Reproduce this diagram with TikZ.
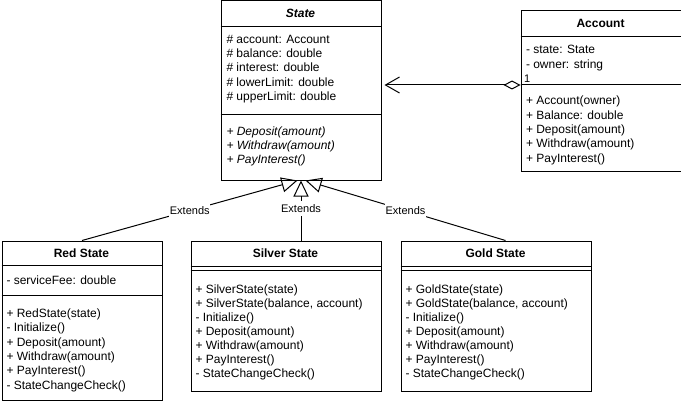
\documentclass[tikz,border=0pt]{standalone}
\usepackage{fontspec}
\setmainfont{Liberation Sans}
\usetikzlibrary{arrows.meta}
\newcommand{\umlrows}[5]{%
  \foreach \txt [count=\i] in {#5} {
    \node[member] (#1-\i) at (#2, {#3+#4*(\i-1)}) {\txt};
  }}
\begin{document}
\begin{tikzpicture}[x=1pt,y=-1pt,line width=1pt,
  umlbox/.style={draw=black, rectangle, inner sep=0pt, anchor=north west},
  member/.style={anchor=base west, inner sep=0pt, font=\fontsize{12}{14}\selectfont},
  title/.style={inner sep=0pt, font=\fontsize{12}{14}\selectfont\bfseries},
  lab/.style={fill=white, inner xsep=0.5pt, inner ysep=3pt, font=\fontsize{11}{13}\selectfont},
  inherit/.style={-{Triangle[open,length=16pt,width=15pt]}},
  aggr/.style={{Diamond[open,length=17pt,width=9pt]}-{Straight Barb[length=14pt,width=16pt]}, shorten >=3pt}]
\fill[white] (0,0) rectangle (681,404);
\useasboundingbox (0,0) rectangle (681,404);

% State
\node[umlbox, minimum width=160pt, minimum height=179pt] (st) at (220.5,0.5) {};
\draw (220.5,26.5) -- (380.5,26.5);
\draw (220.5,114.5) -- (380.5,114.5);
\node[title] (st-t) at (300.5,13.5) {\itshape State};
\umlrows{st-a}{226}{43.8}{14.1}{\# account: Account, \# balance: double, \# interest: double, \# lowerLimit: double, \# upperLimit: double}
\umlrows{st-m}{226}{135.8}{14.1}{{\itshape + Deposit(amount)}, {\itshape + Withdraw(amount)}, {\itshape + PayInterest()}}

% Account
\node[umlbox, minimum width=160pt, minimum height=160pt] (acc) at (520.5,10.5) {};
\draw (520.5,36.5) -- (680.5,36.5);
\draw (520.5,84.5) -- (680.5,84.5);
\node[title] (acc-t) at (600.5,23.5) {Account};
\umlrows{acc-a}{525.5}{54}{14.2}{- state: State, - owner: string}
\umlrows{acc-m}{525.5}{105}{14.3}{+ Account(owner), + Balance: double, + Deposit(amount), + Withdraw(amount), + PayInterest()}

% RedState
\node[umlbox, minimum width=160pt, minimum height=159pt] (red) at (1.5,240.5) {};
\draw (1.5,265.5) -- (161.5,265.5);
\draw (1.5,295.5) -- (161.5,295.5);
\node[title] (red-t) at (81.5,253) {Red State};
\umlrows{red-a}{6}{284.5}{14.2}{- serviceFee: double}
\umlrows{red-m}{6}{317.6}{14.3}{+ RedState(state), - Initialize(), + Deposit(amount), + Withdraw(amount), + PayInterest(), - StateChangeCheck()}

% SilverState
\node[umlbox, minimum width=190pt, minimum height=150pt] (sil) at (190.5,240.5) {};
\draw (190.5,266.5) -- (380.5,266.5);
\draw (190.5,270.5) -- (380.5,270.5);
\node[title] (sil-t) at (285.5,253.5) {Silver State};
\umlrows{sil-m}{195}{293}{14}{+ SilverState(state), {+ SilverState(balance, account)}, - Initialize(), + Deposit(amount), + Withdraw(amount), + PayInterest(), - StateChangeCheck()}

% GoldState
\node[umlbox, minimum width=190pt, minimum height=150pt] (gold) at (400.5,240.5) {};
\draw (400.5,266.5) -- (590.5,266.5);
\draw (400.5,270.5) -- (590.5,270.5);
\node[title] (gold-t) at (495.5,253.5) {Gold State};
\umlrows{gold-m}{405}{293}{14}{+ GoldState(state), {+ GoldState(balance, account)}, - Initialize(), + Deposit(amount), + Withdraw(amount), + PayInterest(), - StateChangeCheck()}

% Connectors
\draw[aggr] ([yshift=6pt]acc.west) -- ([yshift=5.5pt]st.east);
\node[anchor=base west, inner sep=0pt, font=\fontsize{11}{11}\selectfont] (one) at (523.5,82.5) {1};

\draw[inherit] (red.north) -- node[lab, pos=0.5] (ext1) {Extends} ([xshift=-3.5pt]st.south);
\draw[inherit] ([xshift=15pt]sil.north) -- node[lab, pos=0.533] (ext2) {Extends} (st.south);
\draw[inherit] ([xshift=9.5pt]gold.north) -- node[lab, pos=0.5] (ext3) {Extends} ([xshift=4.5pt]st.south);
\end{tikzpicture}
\end{document}
